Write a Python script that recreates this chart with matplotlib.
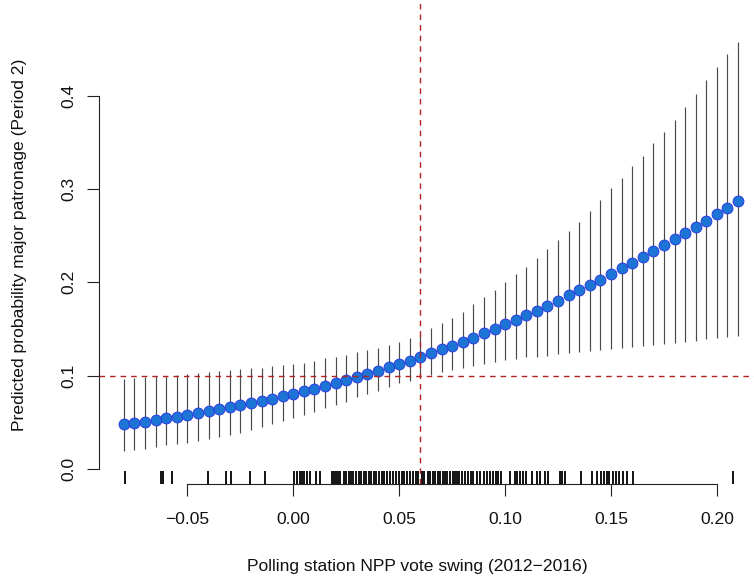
import matplotlib
matplotlib.use("Agg")
import matplotlib.pyplot as plt

plt.rcParams['font.family'] = ['Liberation Sans', 'DejaVu Sans']

# --- values ---
swing = [-0.080, -0.075, -0.070, -0.065, -0.060, -0.055, -0.050, -0.045, -0.040, -0.035,
         -0.030, -0.025, -0.020, -0.015, -0.010, -0.005, 0.000, 0.005, 0.010, 0.015,
         0.020, 0.025, 0.030, 0.035, 0.040, 0.045, 0.050, 0.055, 0.060, 0.065,
         0.070, 0.075, 0.080, 0.085, 0.090, 0.095, 0.100, 0.105, 0.110, 0.115,
         0.120, 0.125, 0.130, 0.135, 0.140, 0.145, 0.150, 0.155, 0.160, 0.165,
         0.170, 0.175, 0.180, 0.185, 0.190, 0.195, 0.200, 0.205, 0.210]

pred = [0.048, 0.049, 0.0505, 0.052, 0.054, 0.056, 0.058, 0.060, 0.062, 0.064,
        0.066, 0.068, 0.0705, 0.073, 0.075, 0.078, 0.080, 0.0835, 0.086, 0.089,
        0.092, 0.095, 0.0985, 0.1015, 0.105, 0.1088, 0.1125, 0.116, 0.120, 0.1245,
        0.128, 0.132, 0.136, 0.1405, 0.1455, 0.150, 0.155, 0.1595, 0.165, 0.1695,
        0.175, 0.180, 0.186, 0.1915, 0.1973, 0.2027, 0.2088, 0.2149, 0.2206, 0.227,
        0.2334, 0.2399, 0.2466, 0.253, 0.2595, 0.2659, 0.2731, 0.2799, 0.2874]

lower = [0.019, 0.020, 0.021, 0.023, 0.025, 0.0266, 0.028, 0.030, 0.032, 0.034,
         0.036, 0.0387, 0.0416, 0.0445, 0.048, 0.051, 0.054, 0.0577, 0.061, 0.0648,
         0.068, 0.072, 0.0766, 0.080, 0.0837, 0.0873, 0.0916, 0.0945, 0.0987, 0.1005,
         0.104, 0.106, 0.1077, 0.1105, 0.1123, 0.1148, 0.1166, 0.1177, 0.1195, 0.1202,
         0.121, 0.1227, 0.1238, 0.1249, 0.1263, 0.1273, 0.128, 0.1291, 0.1302, 0.1316,
         0.1327, 0.1338, 0.1352, 0.1362, 0.1373, 0.1388, 0.1399, 0.141, 0.1423]

upper = [0.096, 0.097, 0.098, 0.099, 0.0995, 0.1005, 0.1016, 0.1023, 0.104, 0.105,
         0.106, 0.1066, 0.1077, 0.1084, 0.110, 0.111, 0.112, 0.1137, 0.116, 0.1184,
         0.120, 0.122, 0.125, 0.1273, 0.130, 0.1327, 0.1356, 0.140, 0.1434, 0.1506,
         0.156, 0.1613, 0.1684, 0.1766, 0.1845, 0.1916, 0.2005, 0.2084, 0.2166, 0.2256,
         0.2356, 0.2452, 0.2549, 0.2648, 0.2763, 0.288, 0.3006, 0.3114, 0.3245, 0.3356,
         0.3489, 0.3607, 0.3738, 0.3875, 0.4017, 0.4167, 0.431, 0.4446, 0.4571]

# observed polling-station swings (rug)
rug_swing = [-0.0797, -0.0627, -0.0613, -0.0575, -0.0401, -0.0316, -0.0292, -0.0203, -0.0132,
             0.0002, 0.0017, 0.0030, 0.0039, 0.0052, 0.0065, 0.0080, 0.0108, 0.0124,
             0.0183, 0.0190, 0.0201, 0.0209, 0.0222, 0.0237, 0.0250, 0.0261, 0.0272,
             0.0284, 0.0297, 0.0308, 0.0319, 0.0332, 0.0344, 0.0357, 0.0367, 0.0379,
             0.0392, 0.0404, 0.0418, 0.0429, 0.0442, 0.0458, 0.0470, 0.0483, 0.0497,
             0.0513, 0.0524, 0.0536, 0.0552, 0.0567, 0.0580, 0.0591, 0.0607, 0.0618,
             0.0634, 0.0646, 0.0659, 0.0670, 0.0681, 0.0693, 0.0706, 0.0717, 0.0728,
             0.0741, 0.0753, 0.0764, 0.0775, 0.0784, 0.0796, 0.0811, 0.0827, 0.0838,
             0.0850, 0.0869, 0.0882, 0.0898, 0.0914, 0.0929, 0.0942, 0.0958, 0.0968,
             0.0980, 0.1024, 0.1047, 0.1058, 0.1071, 0.1086, 0.1099, 0.1126, 0.1150,
             0.1165, 0.1189, 0.1204, 0.1259, 0.1267, 0.1283, 0.1357, 0.1409, 0.1433,
             0.1451, 0.1467, 0.1480, 0.1492, 0.1508, 0.1524, 0.1539, 0.1558, 0.1577,
             0.1605, 0.2075]

x_ticks = [-0.05, 0.00, 0.05, 0.10, 0.15, 0.20]
x_labels = ['\u22120.05', '0.00', '0.05', '0.10', '0.15', '0.20']
y_ticks = [0.0, 0.1, 0.2, 0.3, 0.4]
y_labels = ['0.0', '0.1', '0.2', '0.3', '0.4']

ref_x = 0.06
ref_y = 0.1

W, H = 754, 579
fs = 12.6
fig = plt.figure(figsize=(W / 100, H / 100), dpi=100)
ax = fig.add_axes([99.3 / W, 94.7 / H, 1 - 99.3 / W, 484.3 / H])

# confidence intervals and predicted probabilities
ax.vlines(swing, lower, upper, color='#4a4a4a', lw=0.85, zorder=2)
ax.plot(swing, pred, 'o', ms=7.8, mfc='#1C74D4', mec='#2B3BE0', mew=0.7, zorder=3)

# reference lines
red = '#B22222'
ax.axhline(ref_y, color=red, lw=1.0, dashes=(4, 3.6), zorder=4)
ax.axvline(ref_x, color=red, lw=1.0, dashes=(4, 3.6), zorder=4)

# rug along the bottom
ax.vlines(rug_swing, 0, 0.028, transform=ax.get_xaxis_transform(),
          color='black', lw=1.3, zorder=2)

ax.set_xlim(-0.0916, (W - 293.3) / 2118)
ax.set_ylim((468.8 - 484.3) / 933, 468.8 / 933)

for s in ['top', 'right']:
    ax.spines[s].set_visible(False)
ax.spines['left'].set_bounds(0, 0.4)
ax.spines['bottom'].set_bounds(-0.05, 0.20)
for s in ['left', 'bottom']:
    ax.spines[s].set_linewidth(0.8)
    ax.spines[s].set_color('#222222')

ax.set_xticks(x_ticks)
ax.set_xticklabels(x_labels)
ax.set_yticks(y_ticks)
ax.set_yticklabels(y_labels, rotation=90, va='center')
ax.tick_params(axis='both', length=8.6, width=0.8, color='#222222',
               labelsize=fs, labelcolor='#111111')
ax.tick_params(axis='x', pad=11)
ax.tick_params(axis='y', pad=8)

fig.text(417.5 / W, 1 - 566 / H, 'Polling station NPP vote swing (2012\u22122016)',
         ha='center', va='center', fontsize=fs, color='#111111')
fig.text(20 / W, 1 - 245 / H, 'Predicted probability major patronage (Period 2)',
         ha='center', va='center', rotation=90, fontsize=fs, color='#111111')

fig.savefig('out.png', dpi=100)
